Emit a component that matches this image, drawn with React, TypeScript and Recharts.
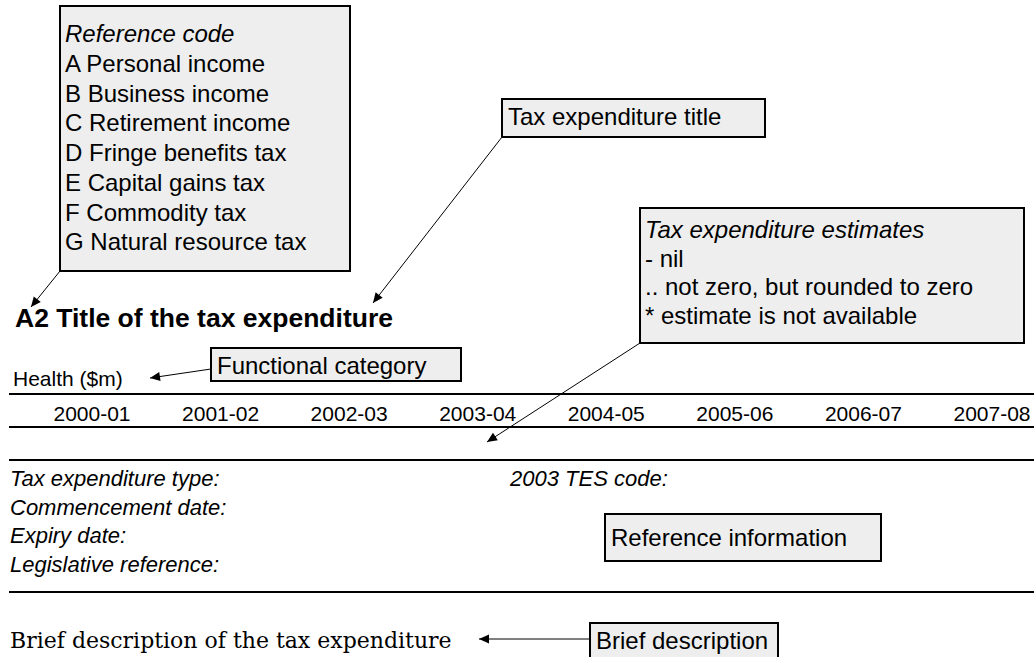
import React from 'react';
import { LineChart, Line, XAxis, YAxis, Customized } from 'recharts';

// template page: the estimate row is blank in the source, so values are null
const YEARS = ['2000-01', '2001-02', '2002-03', '2003-04', '2004-05', '2005-06', '2006-07', '2007-08'];
const ESTIMATES: (number | null)[] = [null, null, null, null, null, null, null, null];

const REFERENCE_CODES = [
  'A Personal income',
  'B Business income',
  'C Retirement income',
  'D Fringe benefits tax',
  'E Capital gains tax',
  'F Commodity tax',
  'G Natural resource tax',
];
const ESTIMATE_KEY = ['- nil', '.. not zero, but rounded to zero', '* estimate is not available'];
const INFO_LABELS = ['Tax expenditure type:', 'Commencement date:', 'Expiry date:', 'Legislative reference:'];

const chartData = YEARS.map((year, i) => ({ year, value: ESTIMATES[i] }));

const SANS = '"Liberation Sans", Arial, sans-serif';
const SERIF = '"DejaVu Serif", serif';

const Box = ({ x, y, w, h }: { x: number; y: number; w: number; h: number }) => (
  <rect x={x} y={y} width={w} height={h} fill="#eeeeee" stroke="#000" strokeWidth={2} />
);

const Arrow = ({ x1, y1, x2, y2 }: { x1: number; y1: number; x2: number; y2: number }) => (
  <line x1={x1} y1={y1} x2={x2} y2={y2} stroke="#000" strokeWidth={1} markerEnd="url(#arrowHead)" />
);

const Rule = ({ y }: { y: number }) => (
  <line x1={9} x2={1034} y1={y} y2={y} stroke="#000" strokeWidth={2} />
);

const Overlay = () => (
  <g fontFamily={SANS} fill="#000">
    <defs>
      <marker id="arrowHead" viewBox="0 0 10 10" refX="10" refY="5" markerWidth="12" markerHeight="10"
        markerUnits="userSpaceOnUse" orient="auto">
        <path d="M0,0.5 L10,5 L0,9.5 z" fill="#000" />
      </marker>
    </defs>

    {/* reference code callout */}
    <Box x={60} y={6} w={290} h={265} />
    <text x={65} y={42} fontSize={24} fontStyle="italic">Reference code</text>
    {REFERENCE_CODES.map((t, i) => (
      <text key={t} x={65} y={72 + i * 29.7} fontSize={24}>{t}</text>
    ))}
    <Arrow x1={60} y1={271} x2={31} y2={307} />

    {/* title callout */}
    <Box x={502} y={99} w={263} h={38} />
    <text x={508} y={125} fontSize={24}>Tax expenditure title</text>
    <Arrow x1={502} y1={137} x2={373} y2={303} />

    {/* estimates callout */}
    <Box x={640} y={208} w={384} h={135} />
    <text x={645} y={238} fontSize={24} fontStyle="italic">Tax expenditure estimates</text>
    {ESTIMATE_KEY.map((t, i) => (
      <text key={t} x={645} y={266.5 + i * 28.5} fontSize={24}>{t}</text>
    ))}
    <Arrow x1={640} y1={343} x2={487} y2={442} />

    <text x={15} y={327} fontSize={26.5} fontWeight="bold">A2 Title of the tax expenditure</text>

    <text x={13} y={386} fontSize={21}>Health ($m)</text>
    <Box x={211} y={348} w={250} h={33} />
    <text x={217} y={374} fontSize={24}>Functional category</text>
    <Arrow x1={211} y1={369} x2={150} y2={378} />

    <Rule y={394} />
    <Rule y={427} />
    <Rule y={460} />
    <Rule y={592} />

    {INFO_LABELS.map((t, i) => (
      <text key={t} x={10} y={486 + i * 28.7} fontSize={22} fontStyle="italic">{t}</text>
    ))}
    <text x={510} y={486} fontSize={22} fontStyle="italic">2003 TES code:</text>
    <Box x={605} y={514} w={276} h={47} />
    <text x={611} y={546} fontSize={24}>Reference information</text>

    <text x={10} y={648} fontSize={22} fontFamily={SERIF}>Brief description of the tax expenditure</text>
    <Box x={590} y={623} w={188} h={45} />
    <text x={596} y={649} fontSize={24}>Brief description</text>
    <Arrow x1={590} y1={639} x2={479} y2={639} />
  </g>
);

export default function App() {
  return (
    <div style={{ position: 'absolute', left: 0, top: 0, width: 1034, height: 657, background: '#fff' }}>
      <LineChart width={1034} height={657} data={chartData} margin={{ top: 360, right: 42, bottom: 233, left: 92 }}>
        <XAxis
          dataKey="year"
          height={30}
          interval={0}
          axisLine={false}
          tickLine={false}
          tickSize={6}
          tickMargin={6}
          tick={{ fontSize: 21, fill: '#000', fontFamily: SANS }}
        />
        <YAxis hide domain={[0, 1]} />
        <Line dataKey="value" stroke="#000" dot={false} isAnimationActive={false} />
        <Customized component={Overlay} />
      </LineChart>
    </div>
  );
}
